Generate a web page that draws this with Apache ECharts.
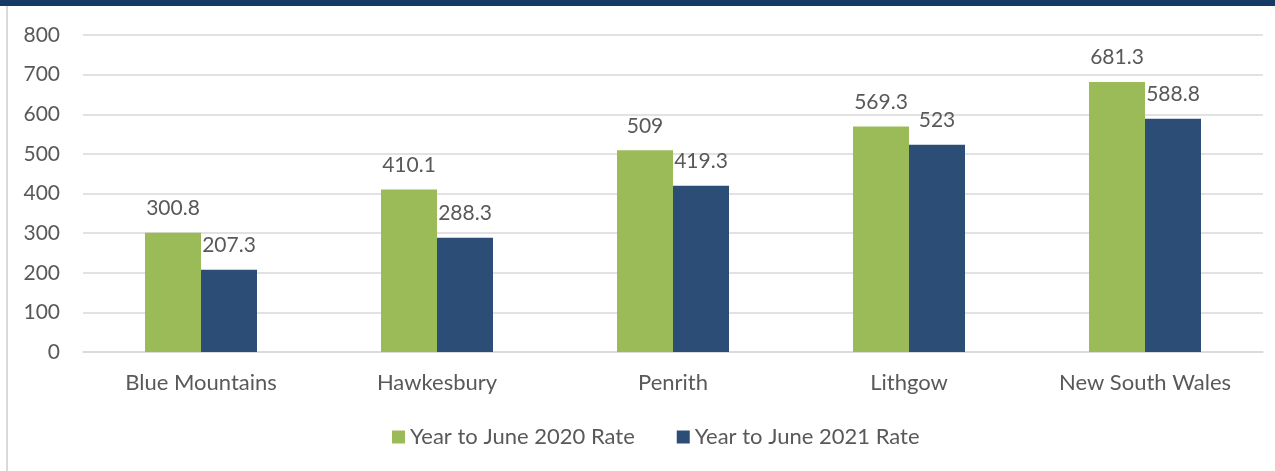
<!DOCTYPE html>
<html>
<head>
<meta charset="utf-8">
<style>
  html, body { margin: 0; padding: 0; background: #fff; }
  #chart { width: 1275px; height: 471px; }
</style>
<script src="https://cdn.jsdelivr.net/npm/echarts@6/dist/echarts.min.js"></script>
</head>
<body>
<div id="chart"></div>
<script>
var categories = ['Blue Mountains', 'Hawkesbury', 'Penrith', 'Lithgow', 'New South Wales'];
var rate2020 = [300.8, 410.1, 509, 569.3, 681.3];
var rate2021 = [207.3, 288.3, 419.3, 523, 588.8];
var seriesNames = ['Year to June 2020 Rate', 'Year to June 2021 Rate'];

var myChart = echarts.init(document.getElementById('chart'));
var textColor = '#595959';
var fontFamily = 'Lato, "Open Sans", sans-serif';

var option = {
  animation: false,
  textStyle: { fontFamily: fontFamily },
  graphic: [
    { type: 'rect', shape: { x: 0, y: 0, width: 1275, height: 6 }, style: { fill: '#163a63' } },
    { type: 'rect', shape: { x: 6, y: 6, width: 2, height: 465 }, style: { fill: '#d9d9d9' } }
  ],
  grid: { left: 83, right: 12, top: 35, bottom: 119, containLabel: false },
  legend: {
    top: 426,
    left: 392,
    padding: 0,
    itemWidth: 13,
    itemHeight: 13,
    itemGap: 42,
    icon: 'rect',
    textStyle: { color: textColor, fontSize: 22, fontFamily: fontFamily },
    data: seriesNames
  },
  xAxis: {
    type: 'category',
    data: categories,
    axisLine: { lineStyle: { color: '#d9d9d9', width: 1.5 } },
    axisTick: { show: false },
    axisLabel: { color: textColor, fontSize: 22, margin: 20, fontFamily: fontFamily }
  },
  yAxis: {
    type: 'value',
    min: 0,
    max: 800,
    interval: 100,
    axisLine: { show: false },
    axisTick: { show: false },
    splitLine: { lineStyle: { color: '#d9d9d9', width: 1.5 } },
    axisLabel: { color: textColor, fontSize: 21, margin: 23, fontFamily: fontFamily }
  },
  series: [
    {
      name: seriesNames[0],
      type: 'bar',
      data: rate2020,
      barWidth: 56,
      barGap: '0%',
      itemStyle: { color: '#9bbb59' },
      label: { show: true, position: 'top', distance: 14, color: textColor, fontSize: 21, fontFamily: fontFamily }
    },
    {
      name: seriesNames[1],
      type: 'bar',
      data: rate2021,
      barWidth: 56,
      barGap: '0%',
      itemStyle: { color: '#2c4d75' },
      label: { show: true, position: 'top', distance: 14, color: textColor, fontSize: 21, fontFamily: fontFamily }
    }
  ]
};

myChart.setOption(option);
</script>
</body>
</html>
